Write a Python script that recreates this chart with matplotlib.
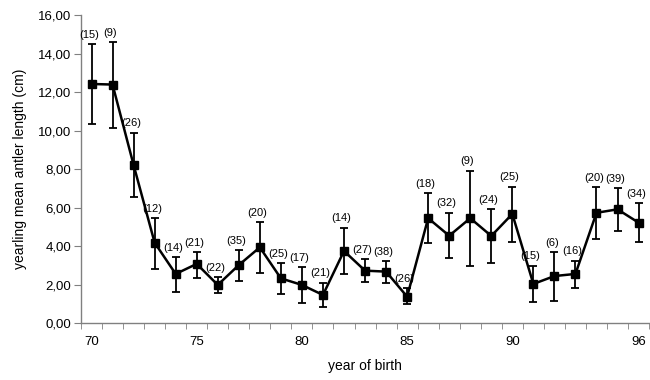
import numpy as np
import matplotlib.pyplot as plt

# yearling mean antler length by year of birth, with error bar ends and sample sizes
years = np.arange(70, 97)
mean_len = [12.42, 12.39, 8.22, 4.19, 2.57, 3.09, 2.00, 3.03, 3.95, 2.34,
            2.00, 1.48, 3.76, 2.74, 2.69, 1.39, 5.46, 4.55, 5.46, 4.54,
            5.68, 2.05, 2.46, 2.57, 5.74, 5.92, 5.23]
upper = [14.48, 14.60, 9.90, 5.46, 3.43, 3.72, 2.40, 3.81, 5.25, 3.15,
         2.91, 2.12, 4.97, 3.33, 3.23, 1.83, 6.78, 5.75, 7.93, 5.92,
         7.10, 3.00, 3.72, 3.26, 7.06, 7.01, 6.23]
lower = [10.35, 10.16, 6.58, 2.83, 1.65, 2.34, 1.57, 2.20, 2.63, 1.51,
         1.05, 0.84, 2.55, 2.17, 2.10, 1.01, 4.16, 3.38, 2.98, 3.15,
         4.24, 1.13, 1.18, 1.83, 4.37, 4.80, 4.21]
n_obs = [15, 9, 26, 12, 14, 21, 22, 35, 20, 25, 17, 21, 14, 27, 38, 26,
         18, 32, 9, 24, 25, 15, 6, 16, 20, 39, 34]
xtick_years = [70, 75, 80, 85, 90, 96]

plt.rcParams['font.family'] = ['Liberation Sans', 'DejaVu Sans']

mean_arr = np.array(mean_len)
yerr = [mean_arr - np.array(lower), np.array(upper) - mean_arr]

fig = plt.figure(figsize=(6.5, 3.8), dpi=100)
ax = fig.add_axes([0.1246, 0.1487, 0.874, 0.812])

ax.errorbar(years, mean_len, yerr=yerr, color='black', linewidth=1.8,
            marker='s', markersize=6, elinewidth=1.3, capsize=3, capthick=1.3)

for x, top, n in zip(years, upper, n_obs):
    ax.annotate(f'({n})', (x, top), xytext=(-2, 3), textcoords='offset points',
                ha='center', va='bottom', fontsize=8)

ax.set_xlim(69.5, 96.5)
ax.set_ylim(0, 16)
ax.set_yticks(np.arange(0, 17, 2))
ax.set_yticklabels([f'{v:.2f}'.replace('.', ',') for v in np.arange(0, 17, 2)],
                   fontsize=9.5)
ax.set_xticks(xtick_years)
ax.set_xticklabels([str(y) for y in xtick_years], fontsize=9.5)
ax.tick_params(axis='x', length=0, pad=9)
ax.set_xticks(np.arange(69.5, 96.6, 1), minor=True)
ax.tick_params(axis='x', which='minor', length=4, color='#808080')
ax.tick_params(axis='y', length=5, color='#808080', pad=2)

for side in ['top', 'right']:
    ax.spines[side].set_visible(False)
for side in ['left', 'bottom']:
    ax.spines[side].set_color('#808080')
    ax.spines[side].set_linewidth(1)

ax.set_xlabel('year of birth', fontsize=10, labelpad=8)
ax.set_ylabel('yearling mean antler length (cm)', fontsize=10, labelpad=8)

fig.savefig('out.png', dpi=100)
